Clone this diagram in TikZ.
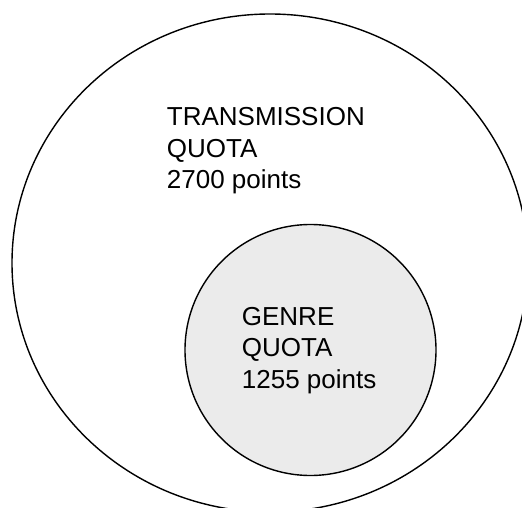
\documentclass[tikz,border=0pt]{standalone}
\usepackage{fontspec}
\setmainfont{Liberation Sans}
\definecolor{innerfill}{HTML}{EBEBEB}
\begin{document}
\begin{tikzpicture}[x=1pt,y=-1pt,
  ring/.style={draw=black,line width=1.4pt},
  label/.style={anchor=north west,inner sep=0pt,align=left,
    font=\fontsize{26}{31.5}\selectfont}]
\useasboundingbox (0,0) rectangle (522,508);
\clip (0,0) rectangle (522,508);
\fill[white] (0,0) rectangle (522,508);
\draw[ring] (270,263) ellipse [x radius=258, y radius=249];
\draw[ring,fill=innerfill] (310.5,350) circle [radius=125.5];
\node[label] (outer) at (166.7,107.5) {TRANSMISSION\\QUOTA\\2700 points};
\node[label] (inner) at (241.7,307) {GENRE\\QUOTA\\1255 points};
\end{tikzpicture}
\end{document}
